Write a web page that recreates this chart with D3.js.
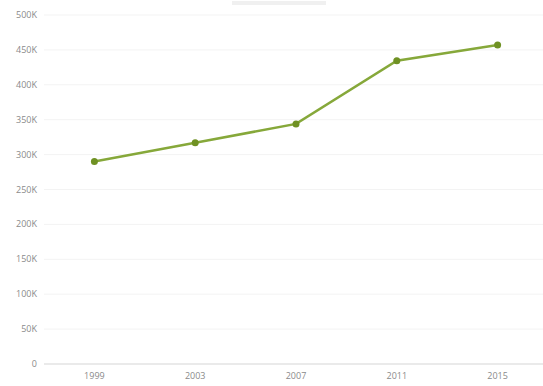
<!DOCTYPE html>
<html>
<head>
<meta charset="utf-8">
<script src="https://cdn.jsdelivr.net/npm/d3@7"></script>
<style>
  body { margin: 0; background: #fff; }
  text { font-family: "Open Sans", sans-serif; }
</style>
</head>
<body>
<div id="chart"></div>
<script>
// data
var years = ["1999", "2003", "2007", "2011", "2015"];
var values = [290000, 317000, 344000, 434500, 457000];
var yTicks = [0, 50000, 100000, 150000, 200000, 250000, 300000, 350000, 400000, 450000, 500000];

var svgWidth = 543;
var svgHeight = 386;

var svg = d3.select("#chart")
            .append("svg")
            .attr("width", svgWidth)
            .attr("height", svgHeight);

// x scale - the plot runs a bit past the right edge
var xScale = d3.scalePoint()
  .domain(years)
  .range([44, 548])
  .padding(0.5);

var yScale = d3.scaleLinear()
  .domain([0, 500000])
  .range([364, 15]);

// faint legend bar at the top
svg.append("rect")
  .attr("x", 232)
  .attr("y", 1)
  .attr("width", 94)
  .attr("height", 4)
  .attr("fill", "#f0f0f0");

// gridlines
svg.append("g")
  .selectAll("line")
  .data(yTicks)
  .enter()
  .append("line")
  .attr("x1", 44)
  .attr("x2", 543)
  .attr("y1", d => yScale(d))
  .attr("y2", d => yScale(d))
  .attr("stroke", d => d === 0 ? "#e3e3e3" : "#f3f3f3")
  .attr("stroke-width", d => d === 0 ? 1.5 : 1);

// y labels
svg.append("g")
  .selectAll("text")
  .data(yTicks)
  .enter()
  .append("text")
  .attr("x", 37)
  .attr("y", d => yScale(d) + 3)
  .attr("text-anchor", "end")
  .attr("font-size", "9px")
  .attr("fill", "#8a8a8a")
  .text(d => d === 0 ? "0" : (d / 1000) + "K");

// x labels
svg.append("g")
  .selectAll("text")
  .data(years)
  .enter()
  .append("text")
  .attr("x", d => xScale(d))
  .attr("y", 379)
  .attr("text-anchor", "middle")
  .attr("font-size", "9px")
  .attr("fill", "#8a8a8a")
  .text(d => d);

var line = d3.line()
  .x((d, i) => xScale(years[i]))
  .y(d => yScale(d));

svg.append("path")
  .datum(values)
  .attr("d", line)
  .attr("fill", "none")
  .attr("stroke", "#86a83a")
  .attr("stroke-width", 2.5);

svg.append("g")
  .selectAll("circle")
  .data(values)
  .enter()
  .append("circle")
  .attr("cx", (d, i) => xScale(years[i]))
  .attr("cy", d => yScale(d))
  .attr("r", 3.5)
  .attr("fill", "#6f9123");
</script>
</body>
</html>
